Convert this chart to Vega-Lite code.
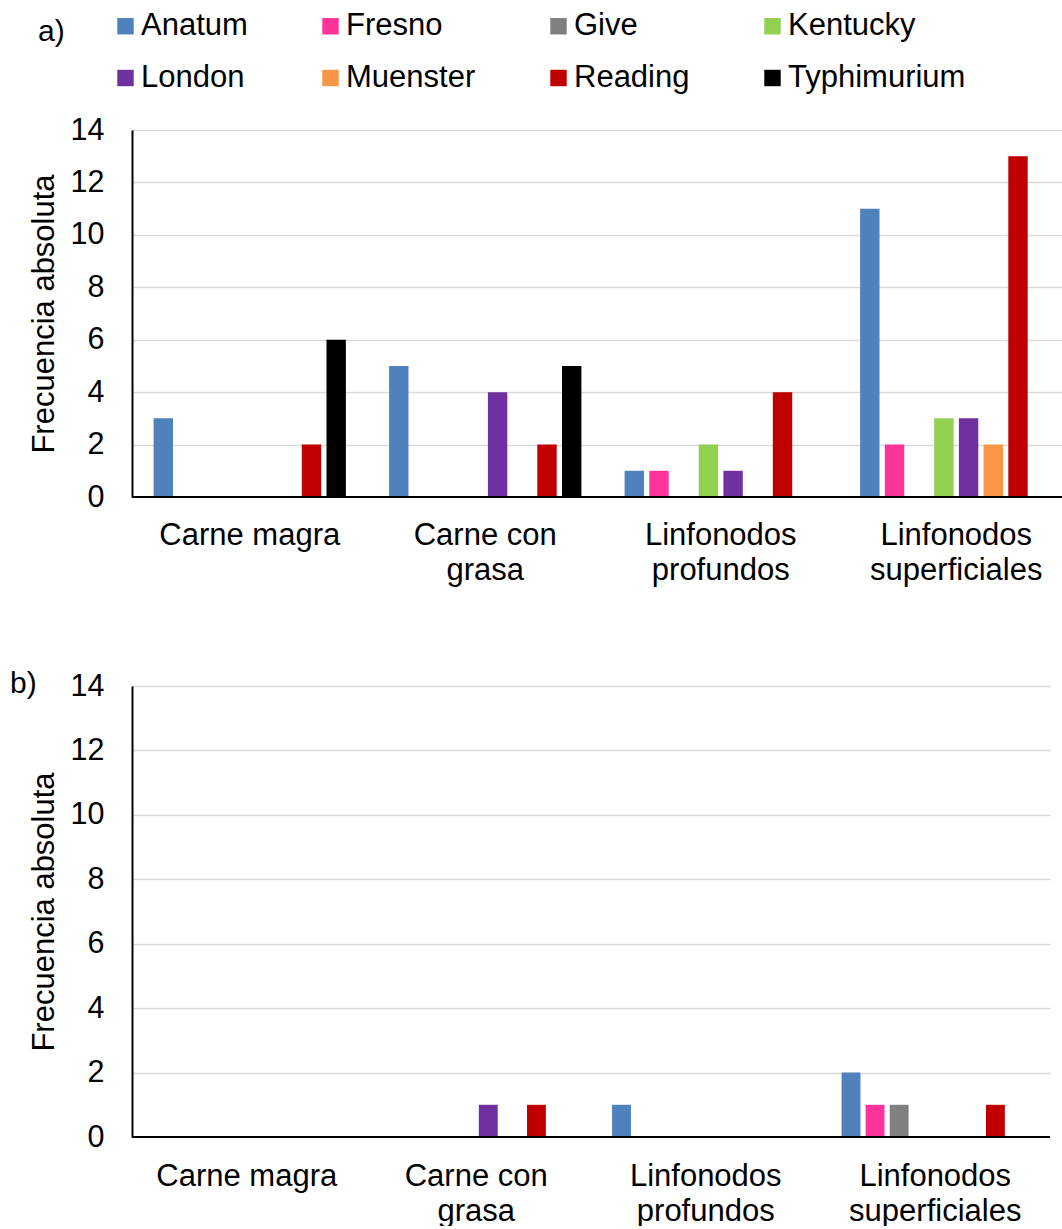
{
  "$schema": "https://vega.github.io/schema/vega-lite/v6.json",
  "padding": {"left": 10, "top": 10, "right": 0, "bottom": 0},
  "spacing": 84,
  "config": {
    "font": "Liberation Sans",
    "view": {"stroke": null},
    "axis": {"labelColor": "#000000", "titleColor": "#000000", "labelFont": "Liberation Sans", "titleFont": "Liberation Sans"},
    "legend": {"labelColor": "#000000", "labelFont": "Liberation Sans"},
    "title": {"color": "#000000", "font": "Liberation Sans"}
  },
  "datasets": {
    "a": [
      {"cat": "Carne magra", "serie": "Anatum", "n": 3},
      {"cat": "Carne magra", "serie": "Reading", "n": 2},
      {"cat": "Carne magra", "serie": "Typhimurium", "n": 6},
      {"cat": "Carne con grasa", "serie": "Anatum", "n": 5},
      {"cat": "Carne con grasa", "serie": "London", "n": 4},
      {"cat": "Carne con grasa", "serie": "Reading", "n": 2},
      {"cat": "Carne con grasa", "serie": "Typhimurium", "n": 5},
      {"cat": "Linfonodos profundos", "serie": "Anatum", "n": 1},
      {"cat": "Linfonodos profundos", "serie": "Fresno", "n": 1},
      {"cat": "Linfonodos profundos", "serie": "Kentucky", "n": 2},
      {"cat": "Linfonodos profundos", "serie": "London", "n": 1},
      {"cat": "Linfonodos profundos", "serie": "Reading", "n": 4},
      {"cat": "Linfonodos superficiales", "serie": "Anatum", "n": 11},
      {"cat": "Linfonodos superficiales", "serie": "Fresno", "n": 2},
      {"cat": "Linfonodos superficiales", "serie": "Kentucky", "n": 3},
      {"cat": "Linfonodos superficiales", "serie": "London", "n": 3},
      {"cat": "Linfonodos superficiales", "serie": "Muenster", "n": 2},
      {"cat": "Linfonodos superficiales", "serie": "Reading", "n": 13}
    ],
    "b": [
      {"cat": "Carne con grasa", "serie": "London", "n": 1},
      {"cat": "Carne con grasa", "serie": "Reading", "n": 1},
      {"cat": "Linfonodos profundos", "serie": "Anatum", "n": 1},
      {"cat": "Linfonodos superficiales", "serie": "Anatum", "n": 2},
      {"cat": "Linfonodos superficiales", "serie": "Fresno", "n": 1},
      {"cat": "Linfonodos superficiales", "serie": "Give", "n": 1},
      {"cat": "Linfonodos superficiales", "serie": "Reading", "n": 1}
    ],
    "base": [{"v": 0}]
  },
  "resolve": {"scale": {"color": "independent", "x": "independent", "y": "independent", "xOffset": "independent"}},
  "vconcat": [
    {
      "width": 931,
      "height": 367,
      "title": {"text": "a)", "anchor": "start", "frame": "bounds", "fontSize": 30, "fontWeight": "normal", "baseline": "alphabetic", "offset": 0, "dx": 10, "dy": 60},
      "layer": [
        {
          "data": {"name": "a"},
          "mark": {"type": "bar"},
          "encoding": {
            "x": {
              "field": "cat", "type": "nominal",
              "scale": {"domain": ["Carne magra", "Carne con grasa", "Linfonodos profundos", "Linfonodos superficiales"], "range": [0, 942], "paddingInner": 0.161, "paddingOuter": 0.0805},
              "axis": {"title": null, "domain": false, "ticks": false, "grid": false, "labelAngle": 0, "labelFontSize": 31, "labelPadding": 23, "labelLineHeight": 35, "labelBaseline": "top", "labelLimit": 400,
                "labelExpr": "datum.value == 'Carne magra' ? 'Carne magra' : datum.value == 'Carne con grasa' ? ['Carne con', 'grasa'] : split(datum.value, ' ')"}
            },
            "xOffset": {
              "field": "serie", "type": "nominal",
              "scale": {"domain": ["Anatum", "Fresno", "Give", "Kentucky", "London", "Muenster", "Reading", "Typhimurium"], "paddingInner": 0.215, "paddingOuter": 0.1075}
            },
            "y": {
              "field": "n", "type": "quantitative",
              "scale": {"domain": [0, 14], "nice": false},
              "axis": {"title": "Frecuencia absoluta", "titleFontSize": 31, "titleFontWeight": "normal", "titlePadding": 10, "values": [0, 2, 4, 6, 8, 10, 12, 14], "labelFontSize": 30.5, "labelPadding": 28, "ticks": false, "domain": true, "domainColor": "#000000", "domainWidth": 2, "grid": true, "gridColor": "#D9D9D9", "gridWidth": 1.3}
            },
            "color": {
              "field": "serie", "type": "nominal",
              "scale": {"domain": ["Anatum", "Fresno", "Give", "Kentucky", "London", "Muenster", "Reading", "Typhimurium"], "range": ["#4F81BD", "#FF3399", "#808080", "#92D050", "#7030A0", "#F79646", "#C00000", "#000000"]},
              "legend": {"orient": "none", "legendX": -22, "legendY": -119.5, "columns": 4, "direction": "horizontal", "gridAlign": "each", "columnPadding": 67, "rowPadding": 20, "symbolType": "square", "symbolSize": 270, "symbolStrokeWidth": 0, "symbolOpacity": 1, "labelFontSize": 31, "labelOffset": 0, "labelLimit": 400, "title": null}
            }
          }
        },
        {
          "data": {"name": "base"},
          "mark": {"type": "rule", "color": "#000000", "strokeWidth": 2},
          "encoding": {"y": {"field": "v", "type": "quantitative"}}
        }
      ]
    },
    {
      "width": 918,
      "height": 451,
      "title": {"text": "b)", "anchor": "start", "frame": "bounds", "fontSize": 30, "fontWeight": "normal", "baseline": "alphabetic", "offset": 0, "dx": -18, "dy": 52},
      "layer": [
        {
          "data": {"name": "b"},
          "mark": {"type": "bar"},
          "encoding": {
            "x": {
              "field": "cat", "type": "nominal",
              "scale": {"domain": ["Carne magra", "Carne con grasa", "Linfonodos profundos", "Linfonodos superficiales"], "paddingInner": 0.161, "paddingOuter": 0.0805},
              "axis": {"title": null, "domain": false, "ticks": false, "grid": false, "labelAngle": 0, "labelFontSize": 31, "labelPadding": 24, "labelLineHeight": 35, "labelBaseline": "top", "labelLimit": 400,
                "labelExpr": "datum.value == 'Carne magra' ? 'Carne magra' : datum.value == 'Carne con grasa' ? ['Carne con', 'grasa'] : split(datum.value, ' ')"}
            },
            "xOffset": {
              "field": "serie", "type": "nominal",
              "scale": {"domain": ["Anatum", "Fresno", "Give", "Kentucky", "London", "Muenster", "Reading", "Typhimurium"], "paddingInner": 0.215, "paddingOuter": 0.1075}
            },
            "y": {
              "field": "n", "type": "quantitative",
              "scale": {"domain": [0, 14], "nice": false},
              "axis": {"title": "Frecuencia absoluta", "titleFontSize": 31, "titleFontWeight": "normal", "titlePadding": 10, "values": [0, 2, 4, 6, 8, 10, 12, 14], "labelFontSize": 30.5, "labelPadding": 28, "ticks": false, "domain": true, "domainColor": "#000000", "domainWidth": 2, "grid": true, "gridColor": "#D9D9D9", "gridWidth": 1.3}
            },
            "color": {
              "field": "serie", "type": "nominal",
              "scale": {"domain": ["Anatum", "Fresno", "Give", "Kentucky", "London", "Muenster", "Reading", "Typhimurium"], "range": ["#4F81BD", "#FF3399", "#808080", "#92D050", "#7030A0", "#F79646", "#C00000", "#000000"]},
              "legend": null
            }
          }
        },
        {
          "data": {"name": "base"},
          "mark": {"type": "rule", "color": "#000000", "strokeWidth": 2},
          "encoding": {"y": {"field": "v", "type": "quantitative"}}
        }
      ]
    }
  ]
}
